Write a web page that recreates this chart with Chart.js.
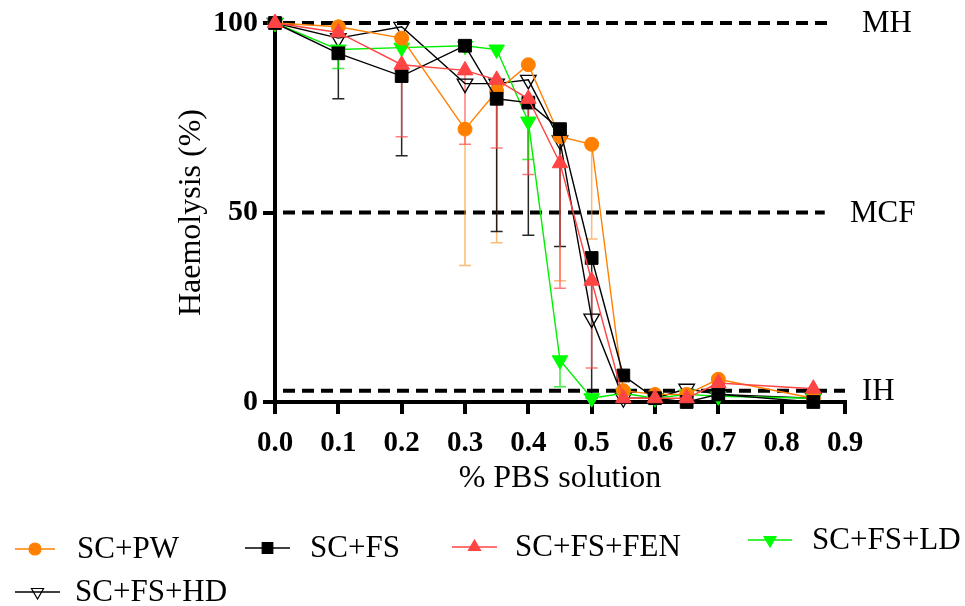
<!DOCTYPE html>
<html><head><meta charset="utf-8">
<script src="https://cdn.jsdelivr.net/npm/chart.js@4/dist/chart.umd.min.js"></script>
<style>html,body{margin:0;padding:0;background:#fff;}#wrap{width:965px;height:606px;position:relative;}</style>
</head><body><div id="wrap"><canvas id="c" width="965" height="606"></canvas></div>
<script>
// ---- data ----
const pbs = [0, 0.1, 0.2, 0.3, 0.35, 0.4, 0.45, 0.5, 0.55, 0.6, 0.65, 0.7, 0.85];
const scPW  = [100, 99, 96, 72, 82, 89, 70, 68, 3, 2, 2, 6, 1];
const scFS  = [100, 92, 86, 94, 80, 79, 72, 38, 7, 1, 0, 2, 0];
const scFEN = [100, 97.5, 89, 87.5, 85, 80, 63, 32, 1, 1, 1, 5, 3.5];
const scLD  = [100, 93, 93.5, 94, 93, 74, 11, 1, 2.3, 1, 2, 1.5, 1];
const scHD  = [100, 96, 99, 84, 84, 85, 69, 22, 1, 1, 3.5, 2, 1];
// lower ends of error bars (null = no visible bar)
const errPW  = [null, null, null, 36, 42, null, 32, 43, null, null, null, null, null];
const errFS  = [null, 80, 65, null, 45, 44, 41, 1, null, null, null, null, null];
const errFEN = [null, null, 70, 68, 67, 60, 30, 9, null, null, null, null, null];
const errLD  = [null, 88, null, null, null, 64, 4, null, null, null, null, null, null];
const errHD  = [null, null, null, null, null, null, null, null, null, null, null, null, null];
const seriesNames = ['SC+PW', 'SC+FS', 'SC+FS+FEN', 'SC+FS+LD', 'SC+FS+HD'];
const xTicks = [0, 0.1, 0.2, 0.3, 0.4, 0.5, 0.6, 0.7, 0.8, 0.9];
const yTicks = [0, 50, 100];
const refValues = [100, 50, 3];
const refLabels = ['MH', 'MCF', 'IH'];
const refEnds = [0.875, 0.868, 0.9];

const FONT = "'Liberation Serif', 'Times New Roman', serif";
Chart.defaults.font.family = FONT;
Chart.defaults.color = '#000';

const toPts = arr => arr.map((v, i) => ({x: pbs[i], y: v}));

const styles = [
  {color: '#FF8000', fill: '#FF8000', err: 'rgba(255,150,40,0.65)', style: 'circle', r: 7, rot: 0, order: 3, lr: 6},
  {color: '#000000', fill: '#000000', err: 'rgba(0,0,0,0.85)', style: 'rect', r: 9, rot: 0, order: 2, lr: 7.5},
  {color: '#FF4444', fill: '#FF4444', err: 'rgba(255,80,80,0.75)', style: 'triangle', r: 9, rot: 0, order: 1, lr: 7},
  {color: '#00EE00', fill: '#00FF00', err: 'rgba(0,230,0,0.75)', style: 'triangle', r: 9, rot: 180, order: 4, lr: 7},
  {color: '#000000', fill: 'rgba(0,0,0,0)', err: 'rgba(0,0,0,0.8)', style: 'triangle', r: 9, rot: 180, order: 5, lr: 7}
];
const values = [scPW, scFS, scFEN, scLD, scHD];
const errs = [errPW, errFS, errFEN, errLD, errHD];

const datasets = values.map((v, i) => ({
  label: seriesNames[i],
  data: toPts(v),
  errLow: errs[i],
  errColor: styles[i].err,
  legendR: styles[i].lr,
  borderColor: styles[i].color,
  backgroundColor: styles[i].fill,
  pointBackgroundColor: styles[i].fill,
  pointBorderColor: i === 3 ? '#00FF00' : styles[i].color,
  pointBorderWidth: i === 4 ? 1.3 : 1,
  borderWidth: 1.4,
  pointStyle: styles[i].style,
  pointRadius: styles[i].r,
  pointRotation: styles[i].rot,
  tension: 0,
  order: styles[i].order,
  clip: false
}));

const errorBars = {
  id: 'errorBars',
  beforeDatasetsDraw(chart) {
    const ctx = chart.ctx, xs = chart.scales.x, ys = chart.scales.y;
    chart.data.datasets.forEach(ds => {
      ds.data.forEach((p, i) => {
        const lo = ds.errLow[i];
        if (lo === null || lo === undefined) return;
        const px = xs.getPixelForValue(p.x);
        const y1 = ys.getPixelForValue(p.y), y2 = ys.getPixelForValue(lo);
        ctx.save();
        ctx.strokeStyle = ds.errColor; ctx.lineWidth = 1.5;
        ctx.beginPath();
        ctx.moveTo(px, y1); ctx.lineTo(px, y2);
        ctx.moveTo(px - 6, y2); ctx.lineTo(px + 6, y2);
        ctx.stroke();
        ctx.restore();
      });
    });
  }
};

const refLinesPlugin = {
  id: 'refLines',
  beforeDatasetsDraw(chart) {
    const ctx = chart.ctx, xs = chart.scales.x, ys = chart.scales.y;
    ctx.save();
    ctx.strokeStyle = '#000'; ctx.lineWidth = 4; ctx.setLineDash([12, 7]);
    refValues.forEach((v, i) => {
      const y = ys.getPixelForValue(v);
      ctx.beginPath();
      ctx.moveTo(xs.getPixelForValue(0) + 8, y);
      ctx.lineTo(xs.getPixelForValue(refEnds[i]), y);
      ctx.stroke();
    });
    ctx.setLineDash([]);
    ctx.fillStyle = '#000';
    ctx.font = "31px " + FONT;
    ctx.textBaseline = 'middle';
    const lx = [862, 850, 862];
    refValues.forEach((v, i) => {
      ctx.fillText(refLabels[i], lx[i], ys.getPixelForValue(v) + 1);
    });
    ctx.restore();
  }
};

const legendPlugin = {
  id: 'customLegend',
  afterDraw(chart) {
    const ctx = chart.ctx;
    const pos = [
      {x1: 15, x2: 55, y: 549, tx: 77},
      {x1: 245, x2: 290, y: 548, tx: 310},
      {x1: 452, x2: 497, y: 547, tx: 515},
      {x1: 748, x2: 792, y: 540, tx: 812},
      {x1: 15, x2: 60, y: 592, tx: 75}
    ];
    chart.data.datasets.forEach((ds, i) => {
      const p = pos[i];
      ctx.save();
      ctx.strokeStyle = ds.borderColor; ctx.lineWidth = 1.4;
      ctx.beginPath(); ctx.moveTo(p.x1, p.y); ctx.lineTo(p.x2, p.y); ctx.stroke();
      ctx.fillStyle = ds.pointBackgroundColor; ctx.strokeStyle = ds.pointBorderColor; ctx.lineWidth = 1.2;
      Chart.helpers.drawPoint(ctx, {pointStyle: ds.pointStyle, radius: ds.legendR, rotation: ds.pointRotation, borderWidth: 1.2}, (p.x1 + p.x2) / 2, p.y);
      ctx.fillStyle = '#000';
      ctx.font = "31px " + FONT;
      ctx.textBaseline = 'middle';
      ctx.fillText(ds.label, p.tx, p.y + 1);
      ctx.restore();
    });
  }
};

new Chart(document.getElementById('c'), {
  type: 'line',
  data: {datasets},
  options: {
    responsive: false,
    animation: false,
    devicePixelRatio: 1,
    layout: {padding: {left: 172, top: 22, right: 120, bottom: 108}},
    plugins: {legend: {display: false}, tooltip: {enabled: false}},
    scales: {
      x: {
        type: 'linear', min: 0, max: 0.9,
        afterBuildTicks: s => { s.ticks = xTicks.map(v => ({value: v})); },
        afterFit: s => { s.height = 96; },
        ticks: {callback: v => v.toFixed(1), font: {size: 29, weight: 'bold'}, padding: 12, maxRotation: 0, color: '#000'},
        grid: {display: true, drawOnChartArea: false, drawTicks: true, tickLength: 12, lineWidth: 4, color: '#000'},
        border: {display: true, width: 4, color: '#000'},
        title: {display: true, text: '% PBS solution', font: {size: 32}, padding: {top: 0, bottom: 0}, color: '#000'}
      },
      y: {
        type: 'linear', min: 0, max: 100,
        afterBuildTicks: s => { s.ticks = yTicks.map(v => ({value: v})); },
        afterFit: s => { s.width = 103; },
        ticks: {font: {size: 30, weight: 'bold'}, padding: 5, color: '#000'},
        grid: {display: true, drawOnChartArea: false, drawTicks: true, tickLength: 12, lineWidth: 4, color: '#000'},
        border: {display: true, width: 4, color: '#000'},
        title: {display: true, text: 'Haemolysis (%)', font: {size: 32}, padding: {top: 0, bottom: 0}, color: '#000'}
      }
    }
  },
  plugins: [refLinesPlugin, errorBars, legendPlugin]
});
</script>
</body></html>
